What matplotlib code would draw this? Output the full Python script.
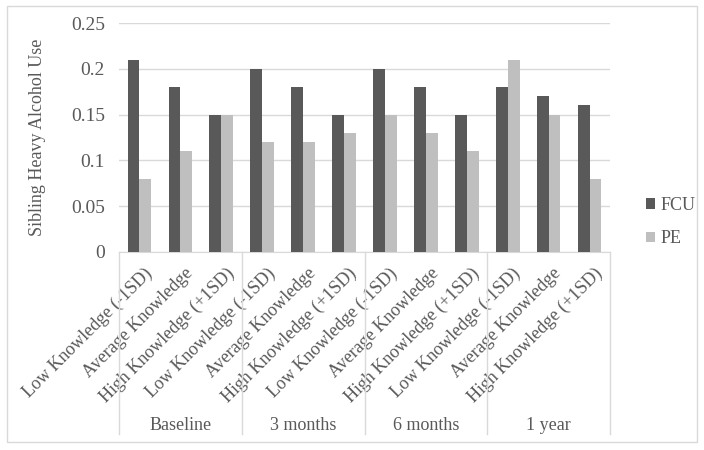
import numpy as np
import matplotlib.pyplot as plt
from matplotlib.patches import Rectangle
import matplotlib.transforms as mtransforms

plt.rcParams['font.family'] = ['Liberation Serif', 'DejaVu Serif']

# data
groups = ["Baseline", "3 months", "6 months", "1 year"]
levels = ["Low Knowledge (-1SD)", "Average Knowledge", "High Knowledge (+1SD)"]
fcu = [0.21, 0.18, 0.15, 0.20, 0.18, 0.15, 0.20, 0.18, 0.15, 0.18, 0.17, 0.16]
pe = [0.08, 0.11, 0.15, 0.12, 0.12, 0.13, 0.15, 0.13, 0.11, 0.21, 0.15, 0.08]

text_col = "#595959"
grid_col = "#d9d9d9"

fig = plt.figure(figsize=(7.04, 4.5), dpi=100)
ax = fig.add_axes([119 / 704, 1 - 252 / 450, (610 - 119) / 704, (252 - 23) / 450])

x = np.arange(len(fcu))
w = 0.29
ax.bar(x - w / 2, fcu, w, color="#595959", label="FCU", zorder=3)
ax.bar(x + w / 2, pe, w, color="#bfbfbf", label="PE", zorder=3)

ax.set_xlim(-0.5, len(fcu) - 0.5)
ax.set_ylim(0, 0.25)
ax.set_yticks([0, 0.05, 0.1, 0.15, 0.2, 0.25])
ax.set_yticklabels(["0", "0.05", "0.1", "0.15", "0.2", "0.25"])
ax.yaxis.grid(True, color=grid_col, linewidth=1, zorder=0)
ax.tick_params(axis="y", length=0, pad=10, labelsize=14, colors=text_col)
ax.tick_params(axis="x", length=0, pad=9, labelsize=13, colors=text_col)
for s in ["top", "right", "left"]:
    ax.spines[s].set_visible(False)
ax.spines["bottom"].set_color(grid_col)

ax.set_xticks(x + 0.1)
ax.set_xticklabels(levels * len(groups), rotation=45, ha="right", va="top",
                   rotation_mode="anchor")

ax.set_ylabel("Sibling Heavy Alcohol Use", fontsize=13, color=text_col, labelpad=18)

# multi-level category axis
trans = mtransforms.blended_transform_factory(ax.transData, ax.transAxes)
bottom = -(434 - 252) / 229
for i in range(len(groups) + 1):
    xv = i * len(levels) - 0.5
    ax.plot([xv, xv], [0, bottom], transform=trans, color=grid_col, lw=1, clip_on=False)
for i, g in enumerate(groups):
    xc = i * len(levels) + 1
    ax.text(xc, -(425 - 252) / 229, g, transform=trans, ha="center", va="center",
            fontsize=13, color=text_col)

fig.legend(loc="center left", bbox_to_anchor=(630 / 704, 1 - 222 / 450), frameon=False,
           fontsize=13, labelcolor=text_col, handlelength=0.5, handleheight=0.5,
           handletextpad=0.3, labelspacing=0.9)

fig.patches.append(Rectangle((7 / 704, 1 - 442 / 450), 690 / 704, 436 / 450,
                             transform=fig.transFigure, fill=False, edgecolor=grid_col, lw=1))

fig.savefig("out.png", dpi=100)
